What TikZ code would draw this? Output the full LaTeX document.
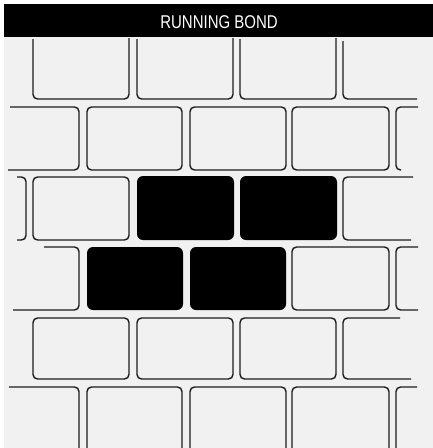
\documentclass[tikz,border=0pt]{standalone}
\usepackage{fontspec}
\newfontfamily\titlefont[FakeStretch=0.81]{Liberation Sans}
\definecolor{bgcol}{RGB}{240,241,240}
\definecolor{lncol}{RGB}{28,28,28}
\begin{document}
\begin{tikzpicture}[x=1pt,y=-1pt,
  brick/.style={draw=lncol,line width=1.4pt,rounded corners=4.5pt},
  solidbrick/.style={fill=black,rounded corners=6pt},
  titletext/.style={text=white,font=\titlefont\fontsize{18.5}{18.5}\selectfont,anchor=base,inner sep=0pt}]
\useasboundingbox (0,0) rectangle (433,448);
\fill[white] (0,0) rectangle (433,448);
\fill[bgcol] (4,37) rectangle (433,448);
\fill[black] (4,4) rectangle (433,37);
\node[titletext] (title) at (219,28.2) {RUNNING BOND};

% Row 1 (open top)
\foreach \a/\b in {33/129,137/233,240/336}
  \draw[brick] (\a,39) -- (\a,99) -- (\b,99) -- (\b,38);
\draw[brick] (343,41) -- (343,99) -- (417,99);

% Row 2
\draw[brick] (10,107) -- (79,107) -- (79,170) -- (8,170);
\foreach \a/\b in {87/182,190/286,292/389}
  \draw[brick] (\a,107) rectangle (\b,170);
\draw[brick] (418,107) -- (396,107) -- (396,170) -- (401,170);

% Row 3
\draw[brick] (17,177) -- (26,177) -- (26,240) -- (17,240);
\draw[brick] (33,177) rectangle (129,240);
\fill[solidbrick] (137,176) rectangle (234,240);
\fill[solidbrick] (240,176) rectangle (337,240);
\draw[brick] (413,177) -- (343,177) -- (343,240) -- (411,240);

% Row 4
\draw[brick] (44,247) -- (79,247) -- (79,310) -- (13,310);
\fill[solidbrick] (87,247) rectangle (183,310);
\fill[solidbrick] (190,247) rectangle (286,310);
\draw[brick] (292,247) rectangle (389,310);
\draw[brick] (418,247) -- (396,247) -- (396,310) -- (418,310);

% Row 5
\foreach \a/\b in {33/129,137/233,240/336}
  \draw[brick] (\a,318) rectangle (\b,379);
\draw[brick] (400,318) -- (343,318) -- (343,379) -- (411,379);

% Row 6 (open bottom)
\draw[brick] (9,387) -- (79,387) -- (79,449);
\foreach \a/\b in {87/182,190/286,292/389}
  \draw[brick] (\a,449) -- (\a,387) -- (\b,387) -- (\b,449);
\draw[brick] (417,387) -- (396,387) -- (396,449);
\end{tikzpicture}
\end{document}
